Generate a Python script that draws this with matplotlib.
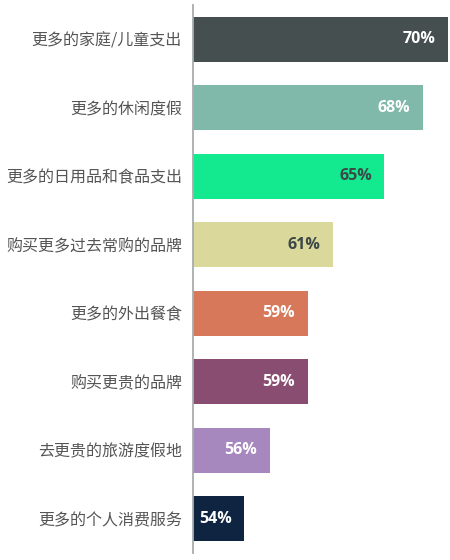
import matplotlib
matplotlib.use("Agg")
import matplotlib.pyplot as plt

plt.rcParams['font.family'] = ['Noto Sans CJK SC', 'DejaVu Sans']

categories = ["更多的家庭/儿童支出", "更多的休闲度假", "更多的日用品和食品支出",
              "购买更多过去常购的品牌", "更多的外出餐食", "购买更贵的品牌",
              "去更贵的旅游度假地", "更多的个人消费服务"]
values = [70, 68, 65, 61, 59, 59, 56, 54]
colors = ["#454f50", "#80b8a9", "#13e98f", "#dbd89b", "#d67859",
          "#8a4d72", "#a688bf", "#0e2440"]
text_colors = ["white", "white", "#3a4848", "#3a4848", "white",
               "white", "white", "white"]

fig = plt.figure(figsize=(4.5, 5.6), dpi=100)
ax = fig.add_axes([193 / 450, 1 - 553 / 560, 255 / 450, 548 / 560])

ypos = list(range(len(categories)))
ax.barh(ypos, values, height=0.65, color=colors, left=0)
ax.set_xlim(50, 70)
ax.set_ylim(len(categories) - 0.5, -0.5)

for y, v, tc in zip(ypos, values, text_colors):
    ax.annotate(f"{v}%", xy=(v, y), xytext=(-9, 0), textcoords="offset points",
                ha="right", va="center", color=tc, fontsize=11.5,
                fontweight="bold", family=["Open Sans", "DejaVu Sans"])

ax.set_yticks(ypos)
ax.set_yticklabels(categories, fontsize=11.5, color="#555555")
ax.tick_params(axis="y", length=0, pad=8)
ax.set_xticks([])
for s in ["top", "right", "bottom"]:
    ax.spines[s].set_visible(False)
ax.spines["left"].set_color("#a9acad")
ax.spines["left"].set_linewidth(1.3)

fig.savefig("out.png", dpi=100)
